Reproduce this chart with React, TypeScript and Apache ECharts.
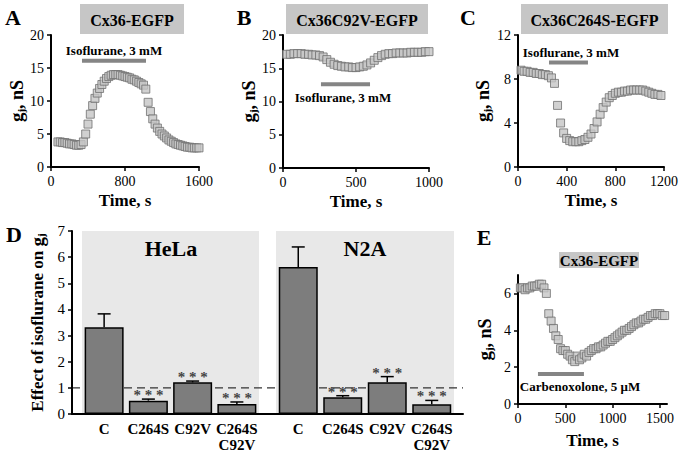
import React, { useEffect, useRef } from "react";
import * as echarts from "echarts";

const serif = '"Liberation Serif", "Times New Roman", serif';

// Panel A: Cx36-EGFP, isoflurane 3 mM (time s, gj nS)
const dataA: [number, number][] = [
  [75, 3.8], [100, 3.8], [125, 3.7], [150, 3.7], [175, 3.6], [200, 3.5], [225, 3.5], [250, 3.4],
  [275, 3.3], [300, 3.3], [325, 3.4], [350, 3.8], [375, 5.0], [400, 6.5], [425, 8.0], [450, 9.3],
  [475, 10.4], [500, 11.2], [525, 11.9], [550, 12.5], [575, 13.0], [600, 13.4], [625, 13.7], [650, 13.9],
  [675, 14.0], [700, 14.0], [725, 14.0], [750, 13.9], [775, 13.8], [800, 13.7], [825, 13.6], [850, 13.5],
  [875, 13.3], [900, 13.2], [925, 13.0], [950, 12.8], [975, 12.6], [1000, 12.4], [1025, 11.8], [1050, 9.8],
  [1075, 8.4], [1100, 7.3], [1125, 6.5], [1150, 5.9], [1175, 5.4], [1200, 5.0], [1225, 4.7], [1250, 4.4],
  [1275, 4.1], [1300, 3.9], [1325, 3.7], [1350, 3.5], [1375, 3.4], [1400, 3.3], [1425, 3.2], [1450, 3.1],
  [1475, 3.0], [1500, 3.0], [1525, 2.9], [1550, 2.9], [1575, 2.9], [1600, 2.9],
];
const drugA: [number, number][] = [[335, 16.1], [1027, 16.1]];

// Panel B: Cx36C92V-EGFP
const dataB: [number, number][] = [
  [25, 17.1], [50, 17.1], [75, 17.2], [100, 17.2], [125, 17.2], [150, 17.1], [175, 17.1], [200, 17.0],
  [225, 17.0], [250, 16.9], [275, 16.7], [300, 16.3], [325, 15.9], [350, 15.6], [375, 15.4], [400, 15.3],
  [425, 15.2], [450, 15.2], [475, 15.1], [500, 15.1], [525, 15.2], [550, 15.3], [575, 15.5], [600, 15.8],
  [625, 16.2], [650, 16.6], [675, 16.9], [700, 17.1], [725, 17.2], [750, 17.2], [775, 17.3], [800, 17.3],
  [825, 17.3], [850, 17.3], [875, 17.4], [900, 17.4], [925, 17.4], [950, 17.4], [975, 17.5], [1000, 17.5],
];
const drugB: [number, number][] = [[260, 12.6], [596, 12.6]];

// Panel C: Cx36C264S-EGFP
const dataC: [number, number][] = [
  [25, 8.8], [50, 8.7], [75, 8.7], [100, 8.6], [125, 8.6], [150, 8.5], [175, 8.5], [200, 8.4],
  [225, 8.4], [250, 8.3], [275, 8.1], [300, 7.6], [325, 5.6], [350, 4.0], [375, 3.1], [400, 2.6],
  [425, 2.4], [450, 2.3], [475, 2.3], [500, 2.3], [525, 2.4], [550, 2.5], [575, 2.7], [600, 3.0],
  [625, 3.5], [650, 4.1], [675, 4.8], [700, 5.4], [725, 5.9], [750, 6.3], [775, 6.5], [800, 6.7],
  [825, 6.8], [850, 6.8], [875, 6.9], [900, 6.9], [925, 7.0], [950, 7.0], [975, 7.0], [1000, 7.0],
  [1025, 7.0], [1050, 6.9], [1075, 6.8], [1100, 6.7], [1125, 6.6], [1150, 6.6], [1175, 6.5],
];
const drugC: [number, number][] = [[255, 9.5], [575, 9.5]];

// Panel E: Cx36-EGFP, carbenoxolone 5 uM
const dataE: [number, number][] = [
  [25, 6.3], [50, 6.3], [75, 6.2], [100, 6.3], [125, 6.3], [150, 6.4], [175, 6.4], [200, 6.4],
  [225, 6.5], [250, 6.5], [275, 6.3], [300, 6.0], [325, 4.9], [350, 4.5], [375, 4.1], [400, 3.7],
  [425, 3.5], [450, 3.0], [475, 2.9], [500, 2.9], [525, 2.7], [550, 2.6], [575, 2.4], [600, 2.3],
  [625, 2.6], [650, 2.4], [675, 2.5], [700, 2.7], [725, 2.6], [750, 2.8], [775, 2.9], [800, 3.0],
  [825, 3.0], [850, 3.1], [875, 3.1], [900, 3.2], [925, 3.3], [950, 3.4], [975, 3.4], [1000, 3.5],
  [1025, 3.6], [1050, 3.7], [1075, 3.8], [1100, 3.9], [1125, 4.0], [1150, 4.0], [1175, 4.1], [1200, 4.2],
  [1225, 4.3], [1250, 4.4], [1275, 4.4], [1300, 4.5], [1325, 4.6], [1350, 4.6], [1375, 4.7], [1400, 4.8],
  [1425, 4.8], [1450, 4.9], [1475, 4.9], [1500, 4.9], [1525, 4.8], [1550, 4.8],
];
const drugE: [number, number][] = [[211, 1.63], [697, 1.63]];

// Panel D: effect of isoflurane on gj
const categoriesD = ["C", "C264S", "C92V", "C264S\nC92V"];
const helaMean = [3.32, 0.51, 1.21, 0.38];
const helaUpper = [3.83, 0.57, 1.26, 0.46];
const helaSig = [0, 1, 1, 1];
const n2aMean = [5.62, 0.64, 1.21, 0.37];
const n2aUpper = [6.39, 0.70, 1.43, 0.52];
const n2aSig = [0, 1, 1, 1];
const referenceLevel = 1;

const plain = (v: number) => String(v);
const tickFont = { fontFamily: serif, fontSize: 14, color: "#000", formatter: plain };
const axisLineStyle = { show: true, onZero: false, lineStyle: { color: "#000", width: 2 } };
const axisTickStyle = { show: true, length: 4, lineStyle: { color: "#000", width: 1.5 } };

function timeX(gridIndex: number, max: number, interval: number, nameGap: number, custom?: number[]) {
  return {
    gridIndex, type: "value", min: 0, max, interval,
    name: "Time, s", nameLocation: "middle", nameGap,
    nameTextStyle: { fontFamily: serif, fontWeight: "bold", fontSize: 17, color: "#000" },
    axisLine: axisLineStyle,
    axisTick: custom ? { ...axisTickStyle, customValues: custom } : axisTickStyle,
    axisLabel: custom ? { ...tickFont, margin: 7, customValues: custom } : { ...tickFont, margin: 7 },
    splitLine: { show: false },
  };
}

const gjRich = {
  g: { fontFamily: serif, fontWeight: "bold", fontSize: 19, color: "#000" },
  j: { fontFamily: serif, fontWeight: "bold", fontSize: 11, color: "#000", verticalAlign: "bottom", lineHeight: 11 },
  n: { fontFamily: serif, fontWeight: "bold", fontSize: 18, color: "#000" },
  t: { fontFamily: serif, fontWeight: "bold", fontSize: 17, color: "#000" },
};

function gjY(gridIndex: number, max: number, interval: number, nameGap: number, custom?: number[]) {
  return {
    gridIndex, type: "value", min: 0, max, interval,
    name: "{g|g}{j|j}{n|, nS}", nameLocation: "middle", nameGap,
    nameTextStyle: { rich: gjRich },
    axisLine: axisLineStyle,
    axisTick: custom ? { ...axisTickStyle, customValues: custom } : axisTickStyle,
    axisLabel: custom ? { ...tickFont, margin: 7, customValues: custom } : { ...tickFont, margin: 7 },
    splitLine: { show: false },
  };
}

const squareStyle = { color: "#c6c6c6", borderColor: "#707070", borderWidth: 1 };

function traceSeries(idx: number, data: [number, number][]) {
  return {
    type: "scatter", xAxisIndex: idx, yAxisIndex: idx, data,
    symbol: "rect", symbolSize: 8, itemStyle: squareStyle, z: 3,
  };
}
function drugSeries(idx: number, data: [number, number][]) {
  return {
    type: "line", xAxisIndex: idx, yAxisIndex: idx, data, symbol: "none",
    lineStyle: { color: "#858585", width: 4 }, z: 2,
  };
}

function errorSeries(idx: number, mean: number[], upper: number[], sig: number[]) {
  return {
    type: "custom", xAxisIndex: idx, yAxisIndex: idx,
    data: mean.map((m, i) => [i, m, upper[i], sig[i]]),
    encode: { x: 0, y: 1 }, z: 4,
    itemStyle: { color: "#444" },
    renderItem: (params: any, api: any) => {
      const i = api.value(0);
      const p0 = api.coord([i, api.value(1)]);
      const p1 = api.coord([i, api.value(2)]);
      const children: any[] = [
        { type: "line", shape: { x1: p0[0], y1: p0[1], x2: p1[0], y2: p1[1] }, style: { stroke: "#000", lineWidth: 1.5 } },
        { type: "line", shape: { x1: p1[0] - 6.5, y1: p1[1], x2: p1[0] + 6.5, y2: p1[1] }, style: { stroke: "#000", lineWidth: 1.5 } },
      ];
      if (api.value(3)) {
        children.push({
          type: "text",
          style: { text: "* * *", x: p1[0], y: p1[1] - 4, align: "center", verticalAlign: "middle", fill: "#444", fontFamily: serif, fontWeight: "bold", fontSize: 15 },
        });
      }
      return { type: "group", children };
    },
  };
}

function titleBox(x: number, y: number, w: number, h: number, text: string, size: number) {
  return {
    type: "group",
    children: [
      { type: "rect", shape: { x, y, width: w, height: h }, style: { fill: "#c6c6c6" } },
      { type: "text", style: { text, x: x + w / 2, y: y + h / 2 + 1, align: "center", verticalAlign: "middle", fill: "#000", fontFamily: serif, fontWeight: "bold", fontSize: size } },
    ],
  };
}
function label(text: string, x: number, y: number, size: number, bold = true) {
  return {
    type: "text",
    style: { text, x, y, align: "center", verticalAlign: "middle", fill: "#000", fontFamily: serif, fontWeight: bold ? "bold" : "normal", fontSize: size },
  };
}

export default function App() {
  const ref = useRef<HTMLDivElement>(null);
  useEffect(() => {
    if (!ref.current) return;
    const chart = echarts.init(ref.current, undefined, { renderer: "svg" });
    const option: any = {
      animation: false,
      backgroundColor: "#fff",
      grid: [
        { left: 51, top: 35, width: 148, height: 132 },
        { left: 283, top: 35, width: 146, height: 133 },
        { left: 518, top: 35, width: 146, height: 132 },
        { left: 72, top: 231, width: 391, height: 183 },
        { left: 82, top: 231, width: 177, height: 183, show: true, backgroundColor: "#e8e8e8", borderWidth: 0 },
        { left: 276, top: 231, width: 178, height: 183, show: true, backgroundColor: "#e8e8e8", borderWidth: 0 },
        { left: 518, top: 275, width: 149, height: 129 },
      ],
      xAxis: [
        timeX(0, 1600, 800, 25),
        timeX(1, 1000, 500, 25),
        timeX(2, 1200, 400, 25),
        { gridIndex: 3, type: "value", min: 0, max: 1, z: 5, axisLine: axisLineStyle, axisTick: { show: false }, axisLabel: { show: false }, splitLine: { show: false } },
        { gridIndex: 4, type: "category", data: categoriesD, axisLine: { show: false }, axisTick: { show: false },
          axisLabel: { interval: 0, fontFamily: serif, fontWeight: "bold", fontSize: 15, color: "#000", margin: 7, lineHeight: 16 } },
        { gridIndex: 5, type: "category", data: categoriesD, axisLine: { show: false }, axisTick: { show: false },
          axisLabel: { interval: 0, fontFamily: serif, fontWeight: "bold", fontSize: 15, color: "#000", margin: 7, lineHeight: 16 } },
        timeX(6, 1575, 500, 28, [0, 500, 1000, 1500]),
      ],
      yAxis: [
        gjY(0, 20, 5, 23),
        gjY(1, 20, 5, 23),
        gjY(2, 12, 4, 26),
        { gridIndex: 3, type: "value", min: 0, max: 7, interval: 1, z: 5,
          name: "{t|Effect of isoflurane on }{g|g}{j|j}", nameLocation: "middle", nameGap: 24,
          nameTextStyle: { rich: gjRich },
          axisLine: axisLineStyle, axisTick: axisTickStyle, axisLabel: { ...tickFont, fontSize: 15, margin: 7 }, splitLine: { show: false } },
        { gridIndex: 4, type: "value", min: 0, max: 7, show: false },
        { gridIndex: 5, type: "value", min: 0, max: 7, show: false },
        gjY(6, 7, 2, 24, [0, 2, 4, 6]),
      ],
      series: [
        drugSeries(0, drugA), traceSeries(0, dataA),
        drugSeries(1, drugB), traceSeries(1, dataB),
        drugSeries(2, drugC), traceSeries(2, dataC),
        drugSeries(6, drugE), traceSeries(6, dataE),
        {
          type: "line", xAxisIndex: 3, yAxisIndex: 3, data: [[0, referenceLevel], [1, referenceLevel]], symbol: "none", z: 1,
          lineStyle: { color: "#333", width: 1.3, type: [8, 5] },
        },
        { type: "bar", xAxisIndex: 4, yAxisIndex: 4, data: helaMean, barWidth: 39, z: 3,
          itemStyle: { color: "#7d7d7d", borderColor: "#000", borderWidth: 1.5 } },
        { type: "bar", xAxisIndex: 5, yAxisIndex: 5, data: n2aMean, barWidth: 39, z: 3,
          itemStyle: { color: "#7d7d7d", borderColor: "#000", borderWidth: 1.5 } },
        errorSeries(4, helaMean, helaUpper, helaSig),
        errorSeries(5, n2aMean, n2aUpper, n2aSig),
      ],
      graphic: [
        titleBox(80, 4, 104, 30, "Cx36-EGFP", 16),
        titleBox(286, 4, 142, 30, "Cx36C92V-EGFP", 16),
        titleBox(521, 4, 147, 30, "Cx36C264S-EGFP", 16),
        titleBox(559, 252, 80, 16, "Cx36-EGFP", 15),
        label("A", 13, 17, 22),
        label("B", 244, 17, 22),
        label("C", 468, 17, 22),
        label("D", 14, 234, 22),
        label("E", 484, 237, 22),
        label("Isoflurane, 3 mM", 114, 50, 13),
        label("Isoflurane, 3 mM", 343, 97, 13),
        label("Isoflurane, 3 mM", 571, 52, 13),
        label("Carbenoxolone, 5 \u03bcM", 580, 386, 13),
        label("HeLa", 171, 248, 22),
        label("N2A", 365, 248, 22),
      ],
    };
    chart.setOption(option);
    return () => chart.dispose();
  }, []);
  return <div ref={ref} style={{ position: "fixed", left: 0, top: 0, width: 684, height: 454 }} />;
}
